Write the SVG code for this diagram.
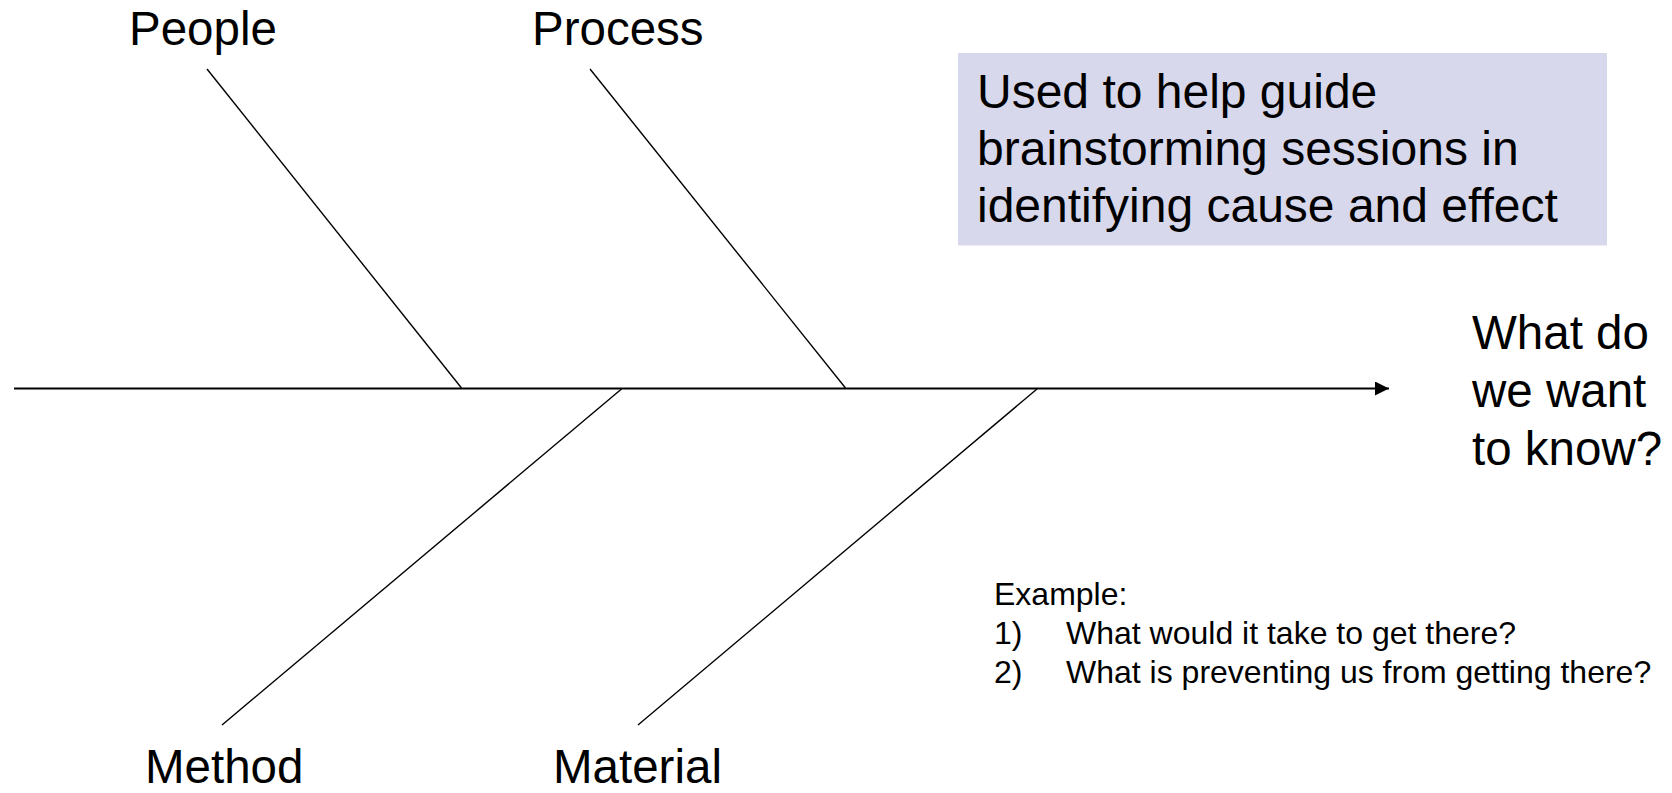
<svg xmlns="http://www.w3.org/2000/svg" width="1672" height="793" viewBox="0 0 1672 793">
<style>
text{font-family:"Liberation Sans",Arial,sans-serif;fill:#000}
.cat{font-size:47.5px}
.big{font-size:48px}
.eff{font-size:47.5px}
.small{font-size:32px}
.bone{stroke:#000;stroke-width:1.4;fill:none}
.spine{stroke:#000;stroke-width:2.2;fill:none}
</style>
<defs>
<marker id="arr" markerWidth="14" markerHeight="14" refX="14" refY="7" orient="auto" markerUnits="userSpaceOnUse">
<path d="M0,0 L14,7 L0,14 Z" fill="#000"/>
</marker>
</defs>
<rect width="1672" height="793" fill="#fff"/>
<g id="connectors">
<line class="spine" x1="14" y1="388.5" x2="1389" y2="388.5" marker-end="url(#arr)"/>
<line class="bone" x1="207" y1="69" x2="461.5" y2="388"/>
<line class="bone" x1="590" y1="69" x2="845.5" y2="388"/>
<line class="bone" x1="621.5" y1="389" x2="222" y2="725"/>
<line class="bone" x1="1037" y1="389" x2="638" y2="725"/>
</g>
<g id="people"><text class="cat" x="129" y="45">People</text></g>
<g id="process"><text class="cat" x="532" y="45">Process</text></g>
<g id="method"><text class="cat" x="145" y="783">Method</text></g>
<g id="material"><text class="cat" x="553" y="783">Material</text></g>
<g id="note">
<rect x="958" y="53" width="649" height="192.5" fill="#D8D8EC"/>
<text class="big" x="977" y="108">Used to help guide</text>
<text class="big" x="977" y="165">brainstorming sessions in</text>
<text class="big" x="977" y="222">identifying cause and effect</text>
</g>
<g id="effect">
<text class="eff" x="1472" y="349">What do</text>
<text class="eff" x="1472" y="407">we want</text>
<text class="eff" x="1472" y="465">to know?</text>
</g>
<g id="example">
<text class="small" x="994" y="605">Example:</text>
<text class="small" x="994" y="644">1)</text>
<text class="small" x="1066" y="644">What would it take to get there?</text>
<text class="small" x="994" y="683">2)</text>
<text class="small" x="1066" y="683">What is preventing us from getting there?</text>
</g>
</svg>
